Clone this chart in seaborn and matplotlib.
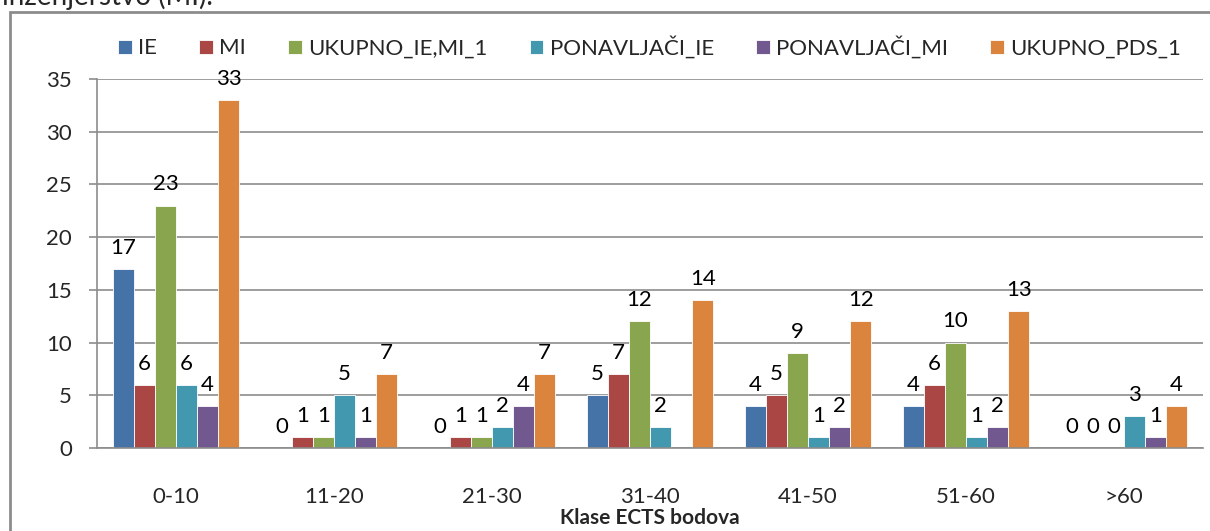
import pandas as pd
import numpy as np
import matplotlib
matplotlib.use('Agg')
import matplotlib.pyplot as plt
from matplotlib.patches import Rectangle
import seaborn as sns

sns.set_style('white')
plt.rcParams['font.family'] = ['Lato', 'DejaVu Sans']

# podaci sa grafikona
klase = ['0-10', '11-20', '21-30', '31-40', '41-50', '51-60', '>60']
serije = ['IE', 'MI', 'UKUPNO_IE,MI_1', 'PONAVLJAČI_IE', 'PONAVLJAČI_MI', 'UKUPNO_PDS_1']
ie = [17, 0, 0, 5, 4, 4, 0]
mi = [6, 1, 1, 7, 5, 6, 0]
ukupno_ie_mi = [23, 1, 1, 12, 9, 10, 0]
ponavljaci_ie = [6, 5, 2, 2, 1, 1, 3]
ponavljaci_mi = [4, 1, 4, np.nan, 2, 2, 1]
ukupno_pds = [33, 7, 7, 14, 12, 13, 4]
boje = ['#4572A7', '#AA4643', '#89A54E', '#4198AF', '#71588F', '#DB843D']


def make_long_df():
    wide = pd.DataFrame({
        'IE': ie,
        'MI': mi,
        'UKUPNO_IE,MI_1': ukupno_ie_mi,
        'PONAVLJAČI_IE': ponavljaci_ie,
        'PONAVLJAČI_MI': ponavljaci_mi,
        'UKUPNO_PDS_1': ukupno_pds,
    }, index=klase)
    wide.index.name = 'klasa'
    df = wide.reset_index().melt(id_vars='klasa', var_name='serija', value_name='broj')
    return df.dropna()


def draw_chart(df):
    fig = plt.figure(figsize=(12.1, 5.31), dpi=100)
    ax = fig.add_axes([97 / 1210, 1 - 448 / 531, 1106 / 1210, 369 / 531])

    sns.barplot(data=df, x='klasa', y='broj', hue='serija', order=klase,
                hue_order=serije, palette=boje, saturation=1, width=0.8,
                edgecolor='white', linewidth=0.6, ax=ax)

    for cont in ax.containers:
        ax.bar_label(cont, fmt='%g', padding=8, fontsize=16, color='black')

    ax.set_ylim(0, 35)
    ax.set_xlim(-0.5, len(klase) - 0.5)
    ax.set_yticks(range(0, 36, 5))
    ax.yaxis.grid(True, color='#8c8c8c', linewidth=1.2)
    ax.set_axisbelow(True)
    for s in ['top', 'right']:
        ax.spines[s].set_visible(False)
    for s in ['left', 'bottom']:
        ax.spines[s].set_color('#8c8c8c')
        ax.spines[s].set_linewidth(1.2)

    ax.set_xticks(np.arange(-0.5, len(klase)), minor=True)
    ax.tick_params(axis='x', which='major', length=0, pad=28, labelsize=16)
    ax.tick_params(axis='x', which='minor', length=6, color='#8c8c8c', width=1.2, direction='out')
    ax.tick_params(axis='y', which='major', length=6, color='#8c8c8c', width=1.2,
                   direction='out', left=True, labelsize=16, pad=12)

    ax.set_ylabel('')
    ax.set_xlabel('Klase ECTS bodova', fontsize=15, fontweight='bold', labelpad=1)

    handles, labels = ax.get_legend_handles_labels()
    ax.get_legend().remove()
    fig.legend(handles, labels, loc='center', bbox_to_anchor=(0.537, 1 - 47 / 531),
               ncol=6, frameon=False, fontsize=16, handlelength=0.6, handleheight=0.6,
               handletextpad=0.3, columnspacing=1.9)

    # okvir grafikona
    fig.patches.append(Rectangle((10 / 1210, -0.05), 1.1, 1 - 12 / 531 + 0.05,
                                 transform=fig.transFigure, fill=False,
                                 edgecolor='#8c8c8c', linewidth=2))
    fig.text(2 / 1210, 1 - 5 / 531, 'inženjerstvo (MI).', fontsize=20, va='baseline')

    fig.savefig('out.png', dpi=100)


def main():
    df = make_long_df()
    draw_chart(df)


if __name__ == '__main__':
    main()
